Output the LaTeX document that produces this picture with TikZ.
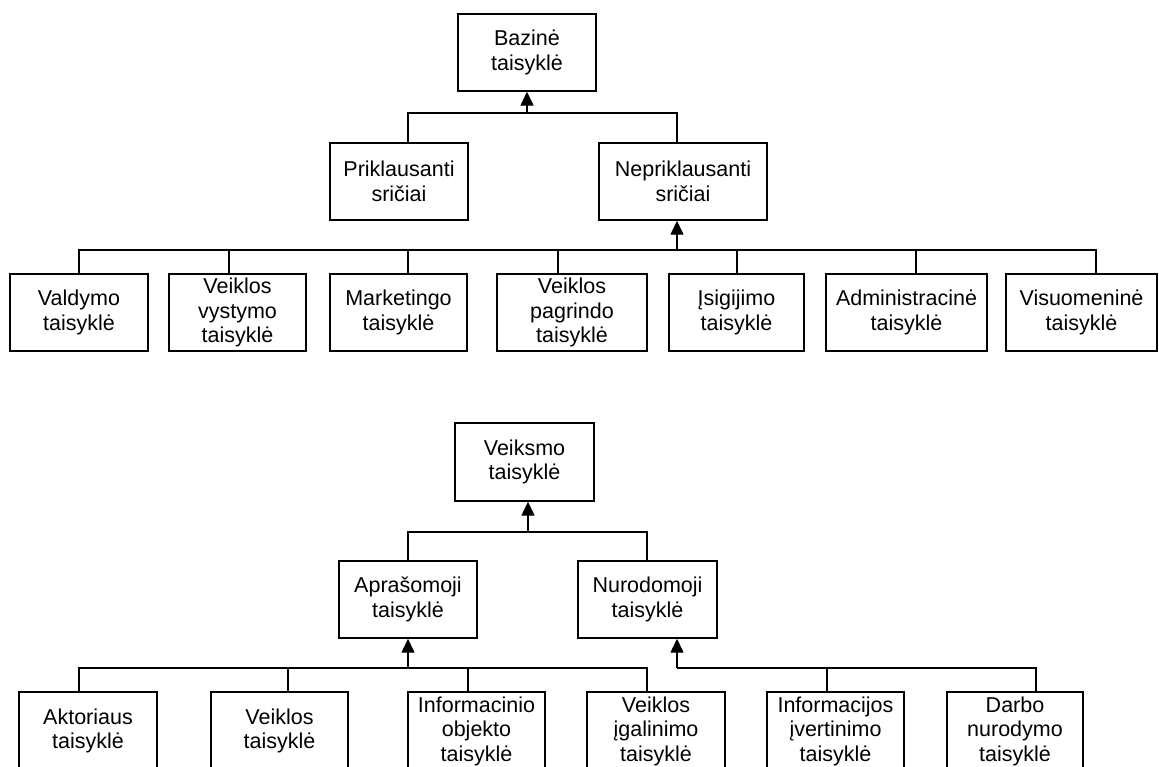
\documentclass[tikz,border=0pt]{standalone}
\usepackage{fontspec}
\setmainfont{Liberation Sans}
\usetikzlibrary{arrows.meta}
\begin{document}
\begin{tikzpicture}[x=1pt,y=-1pt,
  box/.style={draw, line width=1.4pt, rectangle, inner sep=0pt, align=center,
    font=\fontsize{21.5}{24.5}\selectfont, minimum height=77pt},
  link/.style={line width=1.4pt},
  up/.style={link, -{Triangle[width=13pt,length=14pt]}}]
\useasboundingbox (0,0) rectangle (1159,766);
\clip (0,0) rectangle (1159,766);

% ---------- upper hierarchy ----------
\node[box, minimum width=138pt] (baz)    at (527,52.5)  {Bazinė\\taisyklė};
\node[box, minimum width=138pt] (prik)   at (399,181.5) {Priklausanti\\sričiai};
\node[box, minimum width=168pt] (neprik) at (683,181.5) {Nepriklausanti\\sričiai};

\node[box, minimum width=138pt] (valdymo)    at (79,312.5)    {Valdymo\\taisyklė};
\node[box, minimum width=137pt] (vystymo)    at (237.5,312.5) {Veiklos\\vystymo\\taisyklė};
\node[box, minimum width=137pt] (marketingo) at (398.5,312.5) {Marketingo\\taisyklė};
\node[box, minimum width=150pt] (pagrindo)   at (572,312.5)   {Veiklos\\pagrindo\\taisyklė};
\node[box, minimum width=135pt] (isigijimo)  at (736.5,312.5) {Įsigijimo\\taisyklė};
\node[box, minimum width=161pt] (admin)      at (906.5,312.5) {Administracinė\\taisyklė};
\node[box, minimum width=151pt] (visuom)     at (1081.5,312.5){Visuomeninė\\taisyklė};

% bus under the root
\coordinate (a0) at (527,113);
\coordinate (a1) at (408,113);
\coordinate (a2) at (677,113);
\draw[link] (a1 |- prik.north) -- (a1) -- (a2) -- (a2 |- neprik.north);
\draw[up] (a0) -- (a0 |- baz.south);

% bus under "Nepriklausanti sričiai"
\coordinate (b0) at (677,250);
\coordinate (b1) at (79,250);
\coordinate (b2) at (229,250);
\coordinate (b3) at (408,250);
\coordinate (b4) at (558,250);
\coordinate (b5) at (737,250);
\coordinate (b6) at (916,250);
\coordinate (b7) at (1096,250);
\draw[link] (b1 |- valdymo.north) -- (b1) -- (b7) -- (b7 |- visuom.north);
\draw[link] (b2) -- (b2 |- vystymo.north);
\draw[link] (b3) -- (b3 |- marketingo.north);
\draw[link] (b4) -- (b4 |- pagrindo.north);
\draw[link] (b5) -- (b5 |- isigijimo.north);
\draw[link] (b6) -- (b6 |- admin.north);
\draw[up] (b0) -- (b0 |- neprik.south);

% ---------- lower hierarchy ----------
\node[box, minimum width=139pt, minimum height=78pt] (veiksmo) at (524.5,462) {Veiksmo\\taisyklė};
\node[box, minimum width=138pt] (aprasomoji) at (408,599.5)   {Aprašomoji\\taisyklė};
\node[box, minimum width=139pt] (nurodomoji) at (647.5,599.5) {Nurodomoji\\taisyklė};

\node[box, minimum width=138pt, minimum height=78pt] (aktoriaus)    at (88,731)    {Aktoriaus\\taisyklė};
\node[box, minimum width=137pt, minimum height=78pt] (veiklos)      at (279.5,731) {Veiklos\\taisyklė};
\node[box, minimum width=137pt, minimum height=78pt] (informacinio) at (476.5,731) {Informacinio\\objekto\\taisyklė};
\node[box, minimum width=138pt, minimum height=78pt] (igalinimo)    at (656,731)   {Veiklos\\įgalinimo\\taisyklė};
\node[box, minimum width=137pt, minimum height=78pt] (informacijos) at (835.5,731) {Informacijos\\įvertinimo\\taisyklė};
\node[box, minimum width=136pt, minimum height=78pt] (darbo)        at (1015,731)  {Darbo\\nurodymo\\taisyklė};

% bus under the second root
\coordinate (c0) at (528,532);
\coordinate (c1) at (408,532);
\coordinate (c2) at (647,532);
\draw[link] (c1 |- aprasomoji.north) -- (c1) -- (c2) -- (c2 |- nurodomoji.north);
\draw[up] (c0) -- (c0 |- veiksmo.south);

% bus under "Aprašomoji taisyklė"
\coordinate (d0) at (408,668);
\coordinate (d1) at (79,668);
\coordinate (d2) at (288,668);
\coordinate (d3) at (468,668);
\coordinate (d4) at (647,668);
\draw[link] (d1 |- aktoriaus.north) -- (d1) -- (d4) -- (d4 |- igalinimo.north);
\draw[link] (d2) -- (d2 |- veiklos.north);
\draw[link] (d3) -- (d3 |- informacinio.north);
\draw[up] (d0) -- (d0 |- aprasomoji.south);

% bus under "Nurodomoji taisyklė"
\coordinate (e0) at (677,668);
\coordinate (e1) at (827,668);
\coordinate (e2) at (1036,668);
\draw[link] (e0) -- (e2) -- (e2 |- darbo.north);
\draw[link] (e1) -- (e1 |- informacijos.north);
\draw[up] (e0) -- (e0 |- nurodomoji.south);
\end{tikzpicture}
\end{document}
